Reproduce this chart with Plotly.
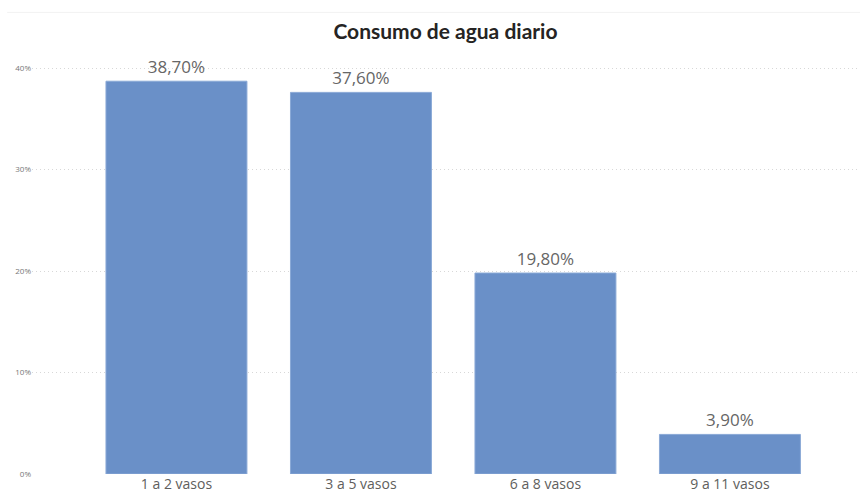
import plotly.graph_objects as go

categories = ["1 a 2 vasos", "3 a 5 vasos", "6 a 8 vasos", "9 a 11 vasos"]
values = [38.7, 37.6, 19.8, 3.9]
labels = ["38,70%", "37,60%", "19,80%", "3,90%"]
tick_vals = [0, 10, 20, 30, 40]
tick_text = ["0%", "10%", "20%", "30%", "40%"]

fig = go.Figure(go.Bar(
    x=categories, y=values, text=labels, textposition="outside",
    textfont=dict(family="Open Sans, Noto Sans, sans-serif", size=17, color="#666666"),
    marker=dict(color="#6A90C8", line=dict(color="#8AA9D6", width=1)),
    cliponaxis=False, hoverinfo="skip",
))

fig.update_layout(
    width=865, height=491,
    paper_bgcolor="white", plot_bgcolor="white",
    margin=dict(l=32, r=5, t=60, b=17),
    bargap=0.236,
    showlegend=False,
    title=dict(text="Consumo de agua diario", x=0.515, xanchor="center", y=0.935, yanchor="middle",
               font=dict(family="Lato, sans-serif", size=21, color="#252423", weight=700)),
    xaxis=dict(range=[-0.783, 3.705], showgrid=False, showline=False, zeroline=False,
               tickfont=dict(family="Open Sans, Noto Sans, sans-serif", size=14, color="#605E5C"),
               ticks="", automargin=False),
    yaxis=dict(range=[0, 40.79], tickvals=tick_vals, ticktext=tick_text,
               showgrid=True, gridcolor="#D8D8D8", griddash="1px,3px", gridwidth=1,
               zeroline=False, showline=False,
               tickfont=dict(family="Open Sans, Noto Sans, sans-serif", size=8, color="#777777"),
               ticks="", automargin=False),
    shapes=[dict(type="line", xref="paper", yref="paper", x0=-0.03, x1=1.0, y0=1.115, y1=1.115,
                 line=dict(color="#F2F2F2", width=1))],
)

fig.write_html("out.html", config={"displayModeBar": False},
               post_script="document.body.style.margin='0px';")
